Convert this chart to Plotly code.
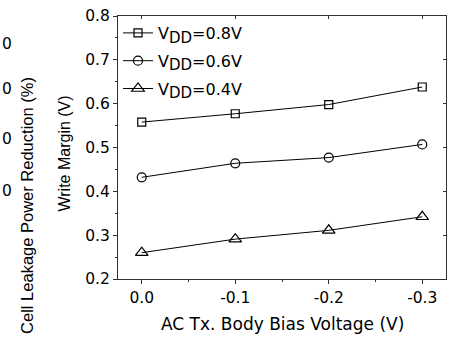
import plotly.graph_objects as go

bias = [0.0, -0.1, -0.2, -0.3]
wm_08 = [0.558, 0.577, 0.598, 0.638]
wm_06 = [0.432, 0.464, 0.477, 0.507]
wm_04 = [0.260, 0.291, 0.311, 0.342]
vdd_labels = ["0.8V", "0.6V", "0.4V"]
symbols = ["square-open", "circle-open", "triangle-up-open"]
sizes = [8, 9, 11]
cut_labels = ["0", "0", "0", "0"]
cut_label_y = [0.892, 0.722, 0.532, 0.335]

TICKFONT = dict(family="DejaVu Sans", size=15.5, color="black")

fig = go.Figure()
for i, (vals, lab, sym, sz) in enumerate(zip([wm_08, wm_06, wm_04], vdd_labels, symbols, sizes)):
    name = "V<sub><span style='font-size:15px'>DD</span></sub>=" + lab
    fig.add_trace(go.Scatter(
        x=bias, y=vals, mode="lines+markers", name=name, legendgroup=f"g{i}",
        line=dict(color="black", width=1),
        marker=dict(symbol=sym, size=sz, color="black", line=dict(color="black", width=1.2)),
    ))

axis_common = dict(showgrid=False, zeroline=False, showline=True, linecolor="#333", linewidth=1.2,
                   ticks="outside", ticklen=4, tickwidth=1, tickcolor="#333", tickfont=TICKFONT)

fig.update_layout(
    width=453, height=337,
    margin=dict(l=118, r=7, t=13, b=58),
    paper_bgcolor="white", plot_bgcolor="white",
    xaxis=dict(range=[0.0254, -0.3254], tickvals=[0.0, -0.1, -0.2, -0.3],
               ticktext=["0.0", "-0.1", "-0.2", "-0.3"],
               minor=dict(ticks="outside", ticklen=2, tickcolor="#333", dtick=0.05),
               **axis_common),
    yaxis=dict(range=[0.2, 0.8], dtick=0.1, tickformat=".1f",
               minor=dict(ticks="outside", ticklen=2, tickcolor="#333", dtick=0.05),
               **axis_common),
    xaxis2=dict(overlaying="x", matches="x", side="top", range=[0.0254, -0.3254], showgrid=False,
                zeroline=False, showline=True, linecolor="#333", linewidth=1.2,
                ticks="inside", ticklen=3, tickcolor="#333", dtick=0.1, tick0=0,
                showticklabels=False),
    yaxis2=dict(overlaying="y", side="right", range=[0.2, 0.8], showgrid=False, zeroline=False,
                showline=True, linecolor="#333", linewidth=1.2, ticks="inside", ticklen=3,
                tickcolor="#333", dtick=0.1, tick0=0.2, showticklabels=False),
    showlegend=True,
    legend=dict(x=0.0, y=1.0, xanchor="left", yanchor="top", bgcolor="rgba(0,0,0,0)",
                font=dict(family="DejaVu Sans", size=16, color="black"),
                itemwidth=30, tracegroupgap=4),
)

# invisible trace to activate the mirrored axes
fig.add_trace(go.Scatter(x=[None], y=[None], xaxis="x2", yaxis="y2", showlegend=False, hoverinfo="skip"))

annotations = [
    dict(text="AC Tx. Body Bias Voltage (V)", x=0.5, y=-0.173, xref="paper", yref="paper",
         xanchor="center", yanchor="middle", showarrow=False,
         font=dict(family="DejaVu Sans", size=17, color="black")),
    dict(text="Write Margin (V)", x=-0.1616, y=0.477, xref="paper", yref="paper", textangle=-90,
         xanchor="center", yanchor="middle", showarrow=False,
         font=dict(family="Liberation Sans", size=16, color="black")),
    dict(text="Cell Leakage Power Reduction (%)", x=-0.2774, y=0.278, xref="paper", yref="paper",
         textangle=-90, xanchor="center", yanchor="middle", showarrow=False,
         font=dict(family="Liberation Sans", size=16.5, color="black")),
]
for t, yy in zip(cut_labels, cut_label_y):
    annotations.append(dict(text=t, x=-0.3585, y=yy, xref="paper", yref="paper", xanchor="left",
                            yanchor="middle", showarrow=False, font=TICKFONT))
fig.update_layout(annotations=annotations)

fig.write_html("out.html")
